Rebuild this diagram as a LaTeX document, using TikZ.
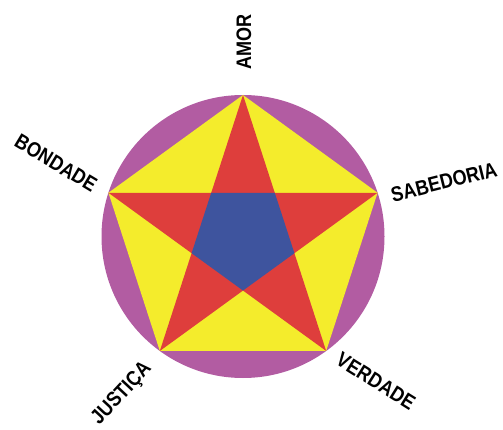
\documentclass[tikz,border=0pt]{standalone}
\usepackage{fontspec}
\setmainfont{Liberation Sans}
\newfontfamily\lblfont{Liberation Sans Bold}
\definecolor{cpurple}{RGB}{178,92,162}
\definecolor{cyellow}{RGB}{244,236,44}
\definecolor{cred}{RGB}{222,62,60}
\definecolor{cblue}{RGB}{62,84,158}
\newcommand{\lbltext}[1]{\scalebox{0.86}[1]{#1}}
\tikzset{lbl/.style={font=\lblfont\fontsize{21}{21}\selectfont, inner sep=0pt, text=black}}
\begin{document}
\begin{tikzpicture}[x=1pt,y=1pt]
\useasboundingbox (0,0) rectangle (503,-430);
\begin{scope}[shift={(243,-236.5)}]
\def\R{141.5}
\def\r{54.05}
\fill[cpurple] (0,0) circle (\R);
\fill[cyellow] (90:\R) -- (162:\R) -- (234:\R) -- (306:\R) -- (18:\R) -- cycle;
\fill[cred, nonzero rule] (90:\R) -- (234:\R) -- (18:\R) -- (162:\R) -- (306:\R) -- cycle;
\fill[cblue] (270:\r) -- (342:\r) -- (54:\r) -- (126:\r) -- (198:\r) -- cycle;
\end{scope}
\node[lbl, rotate=90] (amor) at (244,-42) {\lbltext{AMOR}};
\node[lbl, rotate=-31] (bondade) at (56,-163) {\lbltext{BONDADE}};
\node[lbl, rotate=14] (sabedoria) at (444,-182) {\lbltext{SABEDORIA}};
\node[lbl, rotate=47] (justica) at (122,-394) {\lbltext{JUSTIÇA}};
\node[lbl, rotate=-32] (verdade) at (376,-381) {\lbltext{VERDADE}};
\end{tikzpicture}
\end{document}
